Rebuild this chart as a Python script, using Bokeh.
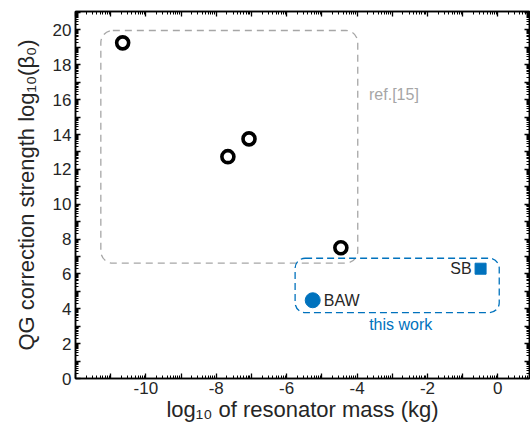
import numpy as np
from bokeh.plotting import figure
from bokeh.models import LinearAxis, FixedTicker, Range1d, Label
from bokeh.embed import file_html
from bokeh.resources import INLINE

# ---- data ----
ref_mass = [-10.66, -7.67, -7.07, -4.46]     # log10 resonator mass (kg), ref.[15]
ref_beta = [19.26, 12.73, 13.75, 7.50]       # log10(beta0)
baw_mass = [-5.26]
baw_beta = [4.49]
sb_mass = [-0.49]
sb_beta = [6.30]

x_major = list(range(-12, 2))
y_major = list(range(0, 22))
x_labels = [-10, -8, -6, -4, -2, 0]
y_labels = [0, 2, 4, 6, 8, 10, 12, 14, 16, 18, 20]

FONT = "Liberation Sans"
TXT = "#262626"
BLUE = "#0072BD"
GRAY = "#A6A6A6"

def log_minor(majors):
    out = []
    for n in majors:
        for k in range(2, 10):
            out.append(n + float(np.log10(k)))
    return out

p = figure(width=530, height=428, output_backend="svg", toolbar_location=None,
           x_range=Range1d(-12, 0.9), y_range=Range1d(0, 21.06),
           x_axis_label="log\u2081\u2080 of resonator mass (kg)",
           y_axis_label="QG correction strength log\u2081\u2080(\u03b2\u2080)",
           min_border_left=75, min_border_top=11, min_border_right=1, min_border_bottom=50)
p.grid.visible = False
p.background_fill_color = "white"
p.border_fill_color = "white"
p.outline_line_color = "black"
p.outline_line_width = 1.5

xt = FixedTicker(ticks=x_major, minor_ticks=log_minor(x_major))
yt = FixedTicker(ticks=y_major, minor_ticks=log_minor(y_major))

def style(ax, ticker, labels, show):
    ax.ticker = ticker
    ax.major_tick_in = 5
    ax.major_tick_out = 0
    ax.minor_tick_in = 3
    ax.minor_tick_out = 0
    ax.axis_line_color = "black"
    ax.axis_line_width = 1.5
    ax.major_tick_line_width = 1.3
    ax.minor_tick_line_width = 1.0
    ax.major_tick_line_color = "black"
    ax.minor_tick_line_color = "black"
    if show:
        ax.major_label_overrides = {t: (str(t) if t in labels else "") for t in ticker.ticks}
        ax.major_label_text_font = FONT
        ax.major_label_text_font_size = "17px"
        ax.major_label_text_color = TXT
        ax.axis_label_text_font = FONT
        ax.axis_label_text_font_size = "22px"
        ax.axis_label_text_font_style = "normal"
        ax.axis_label_text_color = TXT
    else:
        ax.major_label_text_font_size = "0px"
        ax.major_label_standoff = 0
        ax.axis_label = None

xa = p.xaxis[0]
ya = p.yaxis[0]
style(xa, xt, x_labels, True)
style(ya, yt, y_labels, True)
xa.major_label_standoff = 3
xa.axis_label_standoff = 0
ya.major_label_standoff = 4
ya.axis_label_standoff = 11

top = LinearAxis()
right = LinearAxis()
style(top, xt, [], False)
style(right, yt, [], False)
top.major_label_overrides = {t: "" for t in x_major}
right.major_label_overrides = {t: "" for t in y_major}
p.add_layout(top, "above")
p.add_layout(right, "right")

# rounded dashed boxes
p.quad(left=[-11.28], right=[-3.98], top=[19.97], bottom=[6.62],
       fill_alpha=0, line_color=GRAY, line_width=1.3, line_dash="7 5",
       border_radius=12)
p.quad(left=[-5.76], right=[0.04], top=[6.9], bottom=[3.78],
       fill_alpha=0, line_color=BLUE, line_width=1.3, line_dash="7 4",
       border_radius=10)

# data
p.scatter(ref_mass, ref_beta, marker="circle", size=12, fill_color="white",
          line_color="black", line_width=3.6)
p.scatter(baw_mass, baw_beta, marker="circle", size=15, fill_color=BLUE,
          line_color=BLUE, line_width=1)
p.scatter(sb_mass, sb_beta, marker="square", size=11, fill_color=BLUE,
          line_color=BLUE, line_width=1)

# text annotations
p.add_layout(Label(x=sb_mass[0], y=sb_beta[0], text="SB", x_offset=-9,
                   text_align="right", text_baseline="middle",
                   text_font=FONT, text_font_size="16px", text_color=TXT))
p.add_layout(Label(x=baw_mass[0], y=baw_beta[0], text="BAW", x_offset=11,
                   text_align="left", text_baseline="middle",
                   text_font=FONT, text_font_size="16px", text_color=TXT))
p.add_layout(Label(x=-3.66, y=16.3, text="ref.[15]",
                   text_align="left", text_baseline="middle",
                   text_font=FONT, text_font_size="16px", text_color=GRAY))
p.add_layout(Label(x=-2.76, y=3.1, text="this work",
                   text_align="center", text_baseline="middle",
                   text_font=FONT, text_font_size="16px", text_color=BLUE))

open("out.html", "w").write(file_html(p, INLINE))
